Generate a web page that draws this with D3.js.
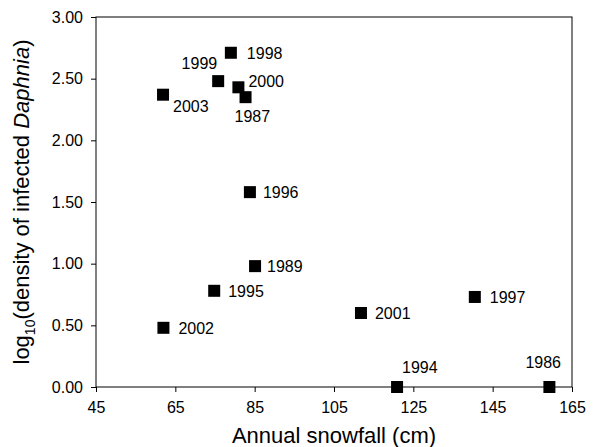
<!DOCTYPE html>
<meta charset="utf-8">
<script src="https://d3js.org/d3.v7.min.js"></script>
<style>
  body { margin: 0; background: #fff; }
  text { font-family: "Liberation Sans", Arial, sans-serif; fill: #000; }
  .axis path, .axis line { stroke: #000; stroke-width: 1px; }
  .axis text { font-size: 16px; }
  .lbl { font-size: 16px; }
  .title { font-size: 22px; }
</style>
<body>
<div id="chart"></div>
<script>
  // data
  var years    = ["1986", "1987", "1989", "1994", "1995", "1996", "1997", "1998", "1999", "2000", "2001", "2002", "2003"];
  var snowfall = [159.3, 82.7, 85.1, 120.9, 74.8, 83.8, 140.5, 79.0, 75.8, 80.9, 111.8, 62.0, 61.9];
  var logDens  = [0.00, 2.35, 0.98, 0.00, 0.78, 1.58, 0.73, 2.71, 2.48, 2.43, 0.60, 0.48, 2.37];
  // label offset relative to each marker
  var labDx    = [-24, -11, 12, 5, 14, 13, 15, 16, -1, 10, 14, 15, 10];
  var labDy    = [-19, 25, 6, -14, 6, 6, 6, 6, -12, 0, 6, 6, 17];
  var labAnchor = ["start", "start", "start", "start", "start", "start", "start", "start", "end", "start", "start", "start", "start"];

  var xTicks = [45, 65, 85, 105, 125, 145, 165];
  var yTicks = [0, 0.5, 1, 1.5, 2, 2.5, 3];

  var width = 596, height = 447;
  var margin = {top: 17, right: 24, bottom: 60, left: 96};

  var svg = d3.select("#chart").append("svg")
      .attr("width", width)
      .attr("height", height);

  var x = d3.scaleLinear().domain([45, 165]).range([margin.left, width - margin.right]);
  var y = d3.scaleLinear().domain([0, 3]).range([height - margin.bottom, margin.top]);

  // frame (top + right)
  svg.append("rect")
      .attr("x", x(45)).attr("y", y(3))
      .attr("width", x(165) - x(45)).attr("height", y(0) - y(3))
      .attr("fill", "none").attr("stroke", "#000");

  svg.append("g")
      .attr("class", "axis")
      .attr("transform", "translate(0," + y(0) + ")")
      .call(d3.axisBottom(x).tickValues(xTicks).tickSize(5).tickSizeOuter(0).tickPadding(10))
      .call(function(g) { g.select(".domain").remove(); });

  svg.append("g")
      .attr("class", "axis")
      .attr("transform", "translate(" + x(45) + ",0)")
      .call(d3.axisLeft(y).tickValues(yTicks).tickFormat(d3.format(".2f")).tickSize(5).tickSizeOuter(0).tickPadding(8))
      .call(function(g) { g.select(".domain").remove(); });

  var pts = years.map(function(d, i) { return {year: d, x: snowfall[i], y: logDens[i], i: i}; });

  svg.append("g").selectAll("rect")
      .data(pts)
    .enter().append("rect")
      .attr("x", function(d) { return x(d.x) - 6; })
      .attr("y", function(d) { return y(d.y) - 6; })
      .attr("width", 12).attr("height", 12)
      .attr("fill", "#000");

  svg.append("g").selectAll("text")
      .data(pts)
    .enter().append("text")
      .attr("class", "lbl")
      .attr("x", function(d) { return x(d.x) + labDx[d.i]; })
      .attr("y", function(d) { return y(d.y) + labDy[d.i]; })
      .attr("text-anchor", function(d) { return labAnchor[d.i]; })
      .text(function(d) { return d.year; });

  // axis titles
  svg.append("text")
      .attr("class", "title")
      .attr("x", (x(45) + x(165)) / 2)
      .attr("y", 443)
      .attr("text-anchor", "middle")
      .text("Annual snowfall (cm)");

  var yt = svg.append("text")
      .attr("class", "title")
      .attr("transform", "translate(29," + ((y(0) + y(3)) / 2) + ") rotate(-90)")
      .attr("text-anchor", "middle");
  yt.append("tspan").text("log");
  yt.append("tspan").attr("dy", 6).style("font-size", "14px").text("10");
  yt.append("tspan").attr("dy", -6).text("(density of infected ");
  yt.append("tspan").style("font-style", "italic").text("Daphnia");
  yt.append("tspan").text(")");
</script>
</body>
